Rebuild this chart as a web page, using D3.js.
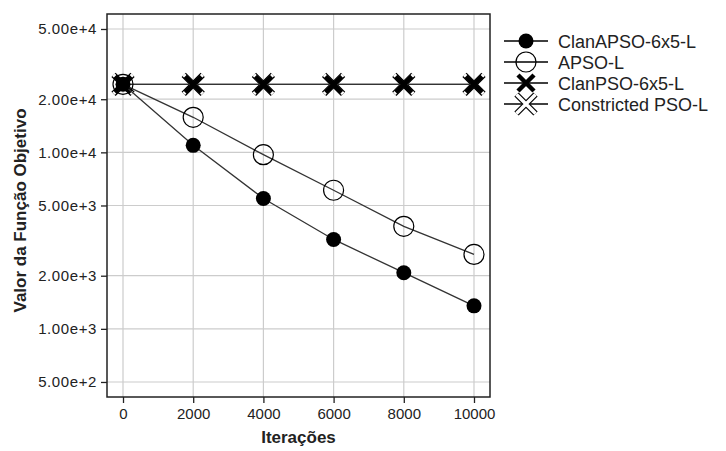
<!DOCTYPE html>
<html>
<head>
<meta charset="utf-8">
<script src="https://cdn.jsdelivr.net/npm/d3@7"></script>
<style>
  body { margin: 0; background: #fff; }
  text { font-family: Arial, "Liberation Sans", sans-serif; }
</style>
</head>
<body>
<div id="chart"></div>
<script>
// the data
var iterations = [0, 2000, 4000, 6000, 8000, 10000];
var clanApso = [24300, 10960, 5480, 3210, 2080, 1350];
var apso = [24300, 15800, 9700, 6100, 3810, 2640];
var clanPso = [24300, 24300, 24300, 24300, 24300, 24300];
var constrictedPso = [24300, 24300, 24300, 24300, 24300, 24300];
var seriesNames = ['ClanAPSO-6x5-L', 'APSO-L', 'ClanPSO-6x5-L', 'Constricted PSO-L'];
var xTicks = [0, 2000, 4000, 6000, 8000, 10000];
var yTicks = [500, 1000, 2000, 5000, 10000, 20000, 50000];

var margin = {top: 14, right: 236, bottom: 54, left: 107},
    width = 726 - margin.left - margin.right,
    height = 451 - margin.top - margin.bottom;

// set the ranges
var x = d3.scaleLinear().domain([-456, 10456]).range([0, width]);
var y = d3.scaleLog().domain([411, 60800]).range([height, 0]);

var svg = d3.select('#chart')
    .append('svg')
    .attr('width', 726)
    .attr('height', 451);

var vis = svg.append('g')
    .attr('transform', 'translate(' + margin.left + ',' + margin.top + ')');

// grid
vis.append('g').selectAll('line').data(xTicks).enter().append('line')
    .attr('x1', function(d) { return x(d); }).attr('x2', function(d) { return x(d); })
    .attr('y1', 0).attr('y2', height)
    .attr('stroke', '#cccccc').attr('stroke-width', 1.2);
vis.append('g').selectAll('line').data(yTicks).enter().append('line')
    .attr('y1', function(d) { return y(d); }).attr('y2', function(d) { return y(d); })
    .attr('x1', 0).attr('x2', width)
    .attr('stroke', '#cccccc').attr('stroke-width', 1.2);

// axes
var xAxis = vis.append('g')
    .attr('transform', 'translate(0,' + height + ')')
    .call(d3.axisBottom(x).tickValues(xTicks).tickSize(6).tickPadding(5).tickFormat(d3.format('d')));
var yAxis = vis.append('g')
    .call(d3.axisLeft(y).tickValues(yTicks).tickSize(6).tickPadding(4).tickFormat(d3.format('.2e')));
[xAxis, yAxis].forEach(function(a) {
    a.select('.domain').remove();
    a.selectAll('line').attr('stroke', '#222').attr('stroke-width', 1.3);
    a.selectAll('text').attr('fill', '#222').style('font-size', '15px');
});
yAxis.selectAll('text').style('letter-spacing', '0.6px');

// frame
vis.append('rect')
    .attr('width', width).attr('height', height)
    .attr('fill', 'none').attr('stroke', '#222').attr('stroke-width', 1.5);

var line = d3.line()
    .x(function(d, i) { return x(iterations[i]); })
    .y(function(d) { return y(d); });

var lineColor = '#333';
var xPath = 'M-8,-8L8,8M-8,8L8,-8';
var xPathBig = 'M-9.5,-9.5L9.5,9.5M-9.5,9.5L9.5,-9.5';

function drawLine(vals) {
    vis.append('path').datum(vals)
        .attr('fill', 'none').attr('stroke', lineColor).attr('stroke-width', 1.3)
        .attr('d', line);
}

function openX(g) {
    g.append('path').attr('d', xPathBig).attr('stroke', '#000').attr('stroke-width', 6).attr('fill', 'none');
    g.append('path').attr('d', xPathBig).attr('stroke', '#fff').attr('stroke-width', 3.6).attr('fill', 'none');
}
function boldX(g) {
    g.append('path').attr('d', xPath).attr('stroke', '#000').attr('stroke-width', 4.5).attr('fill', 'none');
}
function openCircle(g) {
    g.append('circle').attr('r', 10).attr('fill', '#fff').attr('fill-opacity', 0)
        .attr('stroke', '#000').attr('stroke-width', 1.2);
}
function filledCircle(g) {
    g.append('circle').attr('r', 7.5).attr('fill', '#000');
}

function drawMarkers(vals, markFn) {
    vis.append('g').selectAll('g').data(vals).enter().append('g')
        .attr('transform', function(d, i) { return 'translate(' + x(iterations[i]) + ',' + y(d) + ')'; })
        .each(function() { markFn(d3.select(this)); });
}

// draw from back to front
drawLine(constrictedPso);
drawMarkers(constrictedPso, openX);
drawLine(clanPso);
drawMarkers(clanPso, boldX);
drawLine(apso);
drawMarkers(apso, openCircle);
drawLine(clanApso);
drawMarkers(clanApso, filledCircle);

// axis titles
svg.append('text')
    .attr('x', margin.left + x(5000)).attr('y', 443)
    .attr('text-anchor', 'middle')
    .style('font-size', '17px').style('font-weight', 'bold').attr('fill', '#222')
    .text('Iterações');
svg.append('text')
    .attr('transform', 'translate(26,' + (margin.top + height / 2 + 5) + ') rotate(-90)')
    .attr('text-anchor', 'middle')
    .style('font-size', '17px').style('font-weight', 'bold').attr('fill', '#222')
    .text('Valor da Função Objetivo');

// legend
var markFns = [filledCircle, openCircle, boldX, openX];
var legend = svg.append('g').attr('transform', 'translate(504,41)');
seriesNames.forEach(function(name, i) {
    var row = legend.append('g').attr('transform', 'translate(0,' + (i * 21) + ')');
    row.append('line').attr('x1', 0).attr('x2', 44).attr('y1', 0).attr('y2', 0)
        .attr('stroke', '#000').attr('stroke-width', 1.3);
    var m = row.append('g').attr('transform', 'translate(22,0)');
    markFns[i](m);
    row.append('text').attr('x', 54).attr('y', 6.5)
        .style('font-size', '18px').attr('fill', '#222')
        .text(name);
});
</script>
</body>
</html>
